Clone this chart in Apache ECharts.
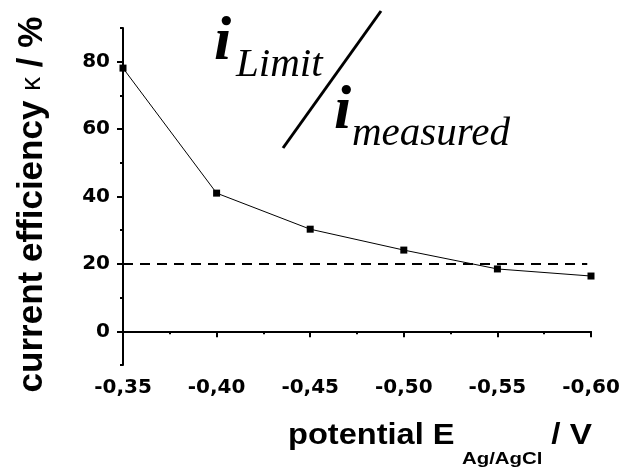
<!DOCTYPE html>
<html><head><meta charset="utf-8">
<script src="https://cdn.jsdelivr.net/npm/echarts@6/dist/echarts.min.js"></script>
<style>html,body{margin:0;padding:0;background:#fff}#c{width:625px;height:476px}</style>
</head><body><div id="c"></div>
<script>
const potentials = [-0.35, -0.40, -0.45, -0.50, -0.55, -0.60];
const efficiency = [78.1, 41.0, 30.3, 24.1, 18.5, 16.4];
const thresholdX = [-0.35, -0.598];
const thresholdY = [20, 20];
const yTickValues = [0, 20, 40, 60, 80];

const chart = echarts.init(document.getElementById('c'));
const F = 'Liberation Sans, Arial, sans-serif';
const TF = '"DejaVu Sans", sans-serif';
const SERIF = '"Liberation Serif", "Times New Roman", serif';
const fmtX = v => {
  const k = Math.round(v * 1000);
  if (k % 50 !== 0) return '';
  return (k / 1000).toFixed(2).replace('.', ',');
};
chart.setOption({
  animation: false,
  grid: {left: 123, right: 34, top: 28, bottom: 111, containLabel: false, outerBoundsMode: 'none'},
  xAxis: [{
    type: 'value', min: -0.6, max: -0.35, interval: 0.05, inverse: true,
    axisLine: {lineStyle: {color: '#000', width: 2}},
    axisTick: {length: 6, lineStyle: {color: '#000', width: 2}},
    minorTick: {show: true, splitNumber: 2, length: 3, lineStyle: {color: '#000', width: 2}},
    splitLine: {show: false},
    axisLabel: {formatter: fmtX, color: '#000', fontFamily: TF, fontWeight: 'bold', fontSize: 20, margin: 13}
  }],
  yAxis: [{
    type: 'value', min: -10, max: 90, interval: 10,
    axisLine: {lineStyle: {color: '#000', width: 2}},
    axisTick: {length: 3, lineStyle: {color: '#000', width: 2}},
    splitLine: {show: false},
    axisLabel: {formatter: v => (Math.round(v) % 20 === 0 && v >= 0 && v <= 80) ? String(v) : '',
      color: '#000', fontFamily: TF, fontWeight: 'bold', fontSize: 20, margin: 13},
    name: '{a|current efficiency }{k|κ}{a| / %}', nameLocation: 'middle', nameGap: 73,
    nameTextStyle: {
      padding: [0, 16, 0, 0],
      rich: {
        a: {fontFamily: F, fontWeight: 'bold', fontSize: 35, color: '#000'},
        k: {fontFamily: F, fontWeight: 'normal', fontSize: 28, color: '#000'}
      }
    }
  }, {
    type: 'value', min: -10, max: 90, position: 'left',
    axisLine: {show: false},
    axisTick: {show: true, length: 6, customValues: yTickValues, lineStyle: {color: '#000', width: 2}},
    axisLabel: {show: false}, splitLine: {show: false}
  }],
  series: [{
    type: 'line', data: potentials.map((p, i) => [p, efficiency[i]]),
    symbol: 'rect', symbolSize: 7,
    itemStyle: {color: '#000'}, lineStyle: {color: '#000', width: 1}
  }, {
    type: 'line', data: thresholdX.map((p, i) => [p, thresholdY[i]]),
    symbol: 'none', lineStyle: {color: '#000', width: 2, type: [10, 7]}
  }],
  graphic: [
    {type: 'text', left: 214, top: 12, style: {text: 'i', font: 'italic bold 62px ' + SERIF, fill: '#000'}},
    {type: 'text', left: 236, top: 45, style: {text: 'Limit', font: 'italic 41px ' + SERIF, fill: '#000'}},
    {type: 'line', shape: {x1: 283, y1: 148, x2: 381, y2: 11}, style: {stroke: '#000', lineWidth: 3}},
    {type: 'text', left: 334, top: 81, style: {text: 'i', font: 'italic bold 62px ' + SERIF, fill: '#000'}},
    {type: 'text', left: 352, top: 114, style: {text: 'measured', font: 'italic 41px ' + SERIF, fill: '#000'}},
    {type: 'text', x: 288, y: 436, scaleX: 1.086, style: {x: 0, y: 0, text: 'potential E', font: 'bold 30px ' + F, fill: '#000', verticalAlign: 'middle', align: 'left'}},
    {type: 'text', x: 462, y: 459, scaleX: 1.2, style: {x: 0, y: 0, text: 'Ag/AgCl', font: 'bold 17px ' + F, fill: '#000', verticalAlign: 'middle', align: 'left'}},
    {type: 'text', x: 592, y: 436, scaleX: 1.11, style: {x: 0, y: 0, text: '/ V', font: 'bold 30px ' + F, fill: '#000', verticalAlign: 'middle', align: 'right'}}
  ]
});
</script></body></html>
